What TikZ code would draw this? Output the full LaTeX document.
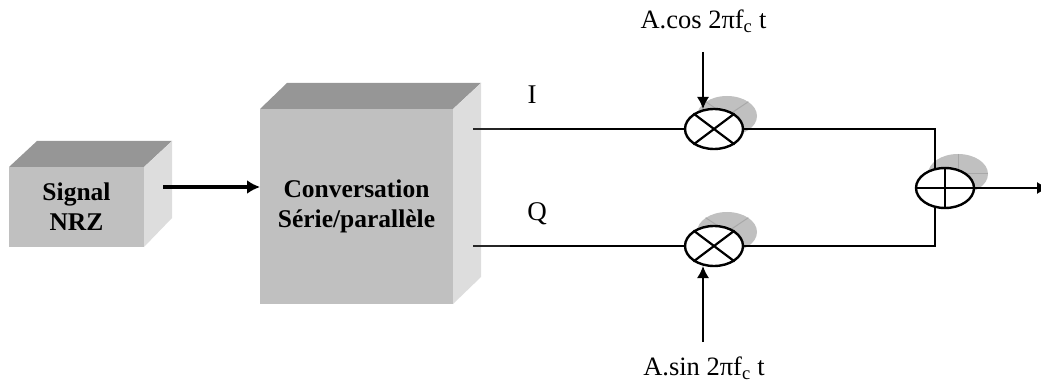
\documentclass[tikz,border=0pt]{standalone}
\usepackage{fontspec}
\setmainfont{Liberation Serif}
\usetikzlibrary{shapes.geometric,arrows.meta}
\definecolor{front}{HTML}{C0C0C0}
\definecolor{topf}{HTML}{969696}
\definecolor{sidef}{HTML}{DDDDDD}
\definecolor{shline}{HTML}{A8A8A8}
\tikzset{
  x=1pt,y=-1pt,
  frontface/.style={draw=none,fill=front,inner sep=0pt,align=center,font=\fontsize{25.5}{30}\selectfont\bfseries},
  opnode/.style={ellipse,draw=black,line width=2.4pt,fill=white,minimum width=58pt,minimum height=40pt,inner sep=0pt},
  shadownode/.style={ellipse,draw=none,fill=front,minimum width=60pt,minimum height=40pt,inner sep=0pt},
  wire/.style={line width=2pt,black,line join=miter},
  crossline/.style={line width=2.2pt,black},
  stub/.style={line width=2.8pt,black!85},
  thinarrow/.style={line width=1.5pt,black,-{Latex[length=12pt,width=12pt]}},
  thickarrow/.style={line width=3.6pt,black,-{Latex[length=13pt,width=14pt]}},
  lab/.style={inner sep=0pt,font=\fontsize{26.5}{30}\selectfont},
  sublab/.style={inner sep=0pt,font=\fontsize{27}{30}\selectfont}
}
\begin{document}
\begin{tikzpicture}
\useasboundingbox (0,0) rectangle (1041,382);
\clip (0,0) rectangle (1041,382);
% small box
\fill[topf] (9,167) -- (37,141) -- (172,141) -- (144,167) -- cycle;
\fill[sidef] (144,167) -- (172,141) -- (172,218) -- (144,247) -- cycle;
\node[frontface,minimum width=135pt,minimum height=80pt] (nrz) at (76.5,207) {\raisebox{-1.5pt}{Signal}\\\raisebox{-1.5pt}{NRZ}};
% big box
\fill[topf] (260,109) -- (287,83) -- (481,83) -- (453,109) -- cycle;
\fill[sidef] (453,109) -- (481,83) -- (481,277) -- (453,304) -- cycle;
\node[frontface,minimum width=193pt,minimum height=195pt] (conv) at (356.5,206.5) {\raisebox{-2pt}{Conversation}\\\raisebox{-2pt}{Série/parallèle}};
% shadows
\node[shadownode] (smi) at (727,116) {};
\draw[shline,line width=1pt] (smi.north east) -- (smi.center) (smi.north west) -- (smi.center);
\node[shadownode] (smq) at (727,232) {};
\draw[shline,line width=1pt] (smq.north east) -- (smq.center) (smq.north west) -- (smq.center);
\node[shadownode] (sadd) at (958,174) {};
\draw[shline,line width=1pt] (sadd.north) -- (sadd.center) -- (sadd.east);
% operators
\node[opnode] (mi) at (714,129) {};
\draw[crossline] (mi.37) -- (mi.217) (mi.143) -- (mi.323);
\node[opnode] (mq) at (714,246) {};
\draw[crossline] (mq.37) -- (mq.217) (mq.143) -- (mq.323);
\node[opnode] (add) at (945,188) {};
\draw[crossline] (add.north) -- (add.south) (add.west) -- (add.east);
% free ends
\coordinate (nrzout) at (163,187);
\coordinate (convin) at (260,187);
\coordinate (iout) at (473,129);
\coordinate (qout) at (473,246);
\coordinate (istub) at (510,129);
\coordinate (qstub) at (510,246);
\coordinate (addtop) at (935,168);
\coordinate (addbot) at (935,207);
\coordinate (out) at (1049,188);
\coordinate (cosend) at (703,52);
\coordinate (sinend) at (703,342);
\coordinate (cosin) at (703,109);
\coordinate (sinin) at (703,266);
% connectors
\draw[thickarrow] (nrzout) -- (convin);
\draw[wire] (iout) -- (mi.west);
\draw[wire] (qout) -- (mq.west);
\draw[stub] (iout) -- (istub);
\draw[stub] (qout) -- (qstub);
\draw[wire] (mi.east) -| (addtop);
\draw[wire] (mq.east) -| (addbot);
\draw[thinarrow] (add.east) -- (out);
\draw[thinarrow] (cosend) -- (cosin);
\draw[thinarrow] (sinend) -- (sinin);
% labels
\node[lab] (lcos) at (703.5,21) {A.cos 2πf\textsubscript{c} t};
\node[lab] (lsin) at (704,368) {A.sin 2πf\textsubscript{c} t};
\node[sublab] (li) at (532,95) {I};
\node[sublab] (lq) at (537,214) {Q};
\end{tikzpicture}
\end{document}
